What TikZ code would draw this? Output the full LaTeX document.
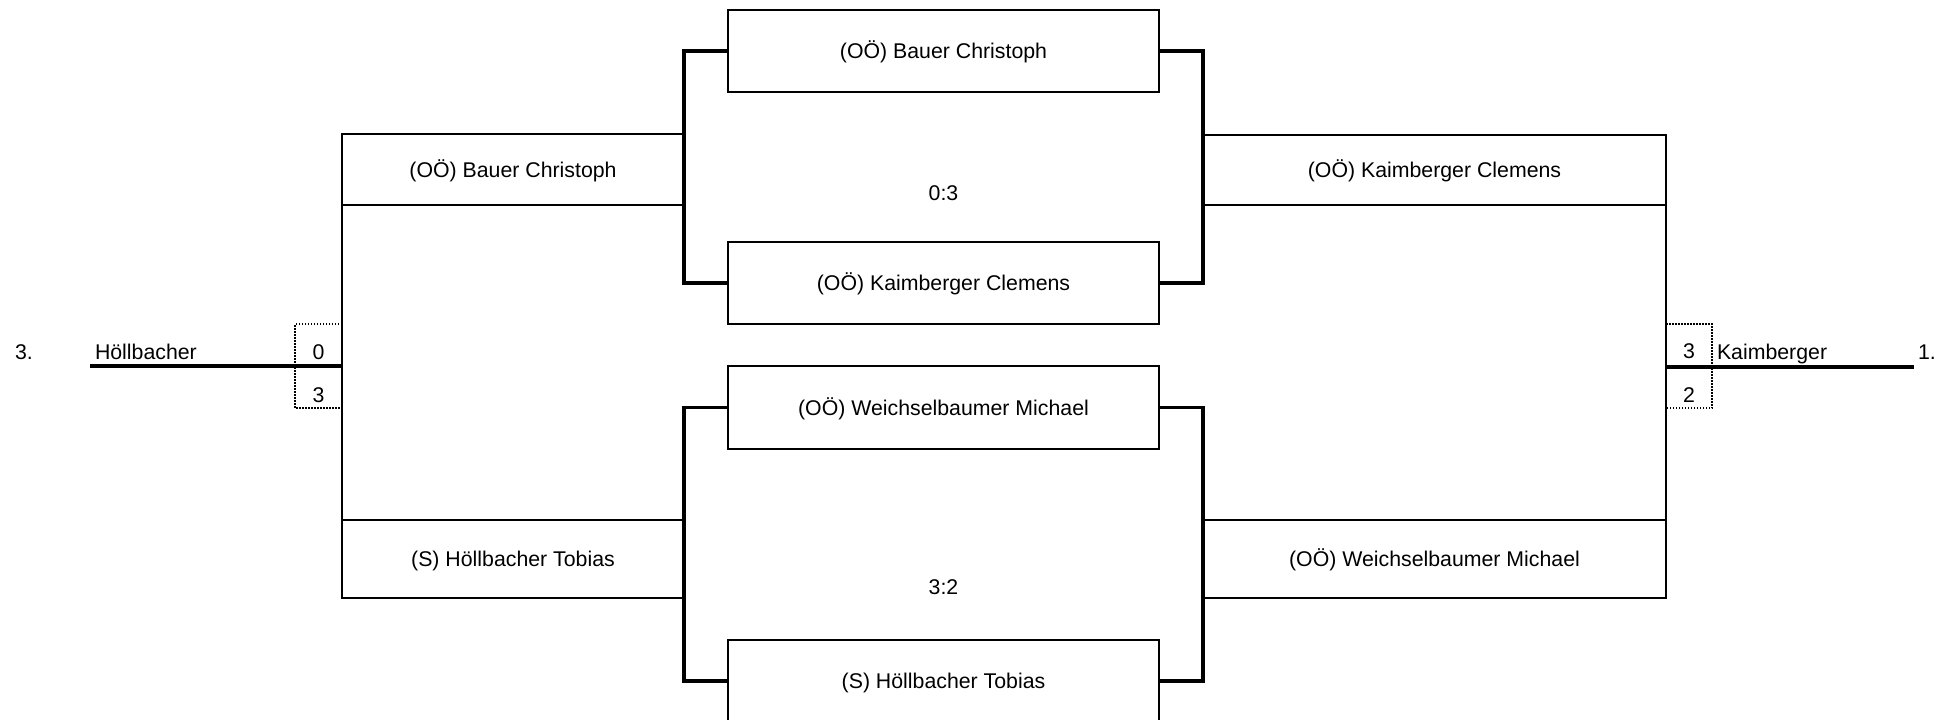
\documentclass[tikz,border=0pt]{standalone}
\usepackage{fontspec}
\setmainfont{Liberation Sans}
\begin{document}
\begin{tikzpicture}[x=1pt,y=-1pt,
  every node/.style={font=\fontsize{21.3}{25}\selectfont, inner sep=0pt, outer sep=0pt},
  boxthin/.style={draw, line width=2pt, rectangle, text height=15.3pt, text depth=0pt},
  ghost/.style={rectangle, inner sep=0pt},
  conn/.style={line width=3.2pt},
  thinline/.style={line width=2pt},
  dotline/.style={line width=1.5pt, dash pattern=on 1.5pt off 1.5pt},
  lbl/.style={anchor=base west},
  clbl/.style={anchor=base}]
\useasboundingbox (0,0) rectangle (1952,720);

% centre boxes (semi-finals)
\node[boxthin, minimum width=431pt, minimum height=82pt] (c1) at (943.5,51) {(OÖ) Bauer Christoph};
\node[boxthin, minimum width=431pt, minimum height=82pt] (c2) at (943.5,283) {(OÖ) Kaimberger Clemens};
\node[boxthin, minimum width=431pt, minimum height=83pt] (c3) at (943.5,407.5) {(OÖ) Weichselbaumer Michael};
\node[boxthin, minimum width=431pt, minimum height=82pt] (c4) at (943.5,681) {(S) Höllbacher Tobias};

% results
\node[clbl] (res1) at (943.5,200) {0:3};
\node[clbl] (res2) at (943.5,594) {3:2};

% left round boxes
\node[boxthin, minimum width=342pt, minimum height=71pt] (l1) at (513,169.5) {(OÖ) Bauer Christoph};
\node[boxthin, minimum width=342pt, minimum height=78pt] (l2) at (513,559) {(S) Höllbacher Tobias};

% right round boxes
\node[boxthin, minimum width=463pt, minimum height=70pt] (r1) at (1434.5,170) {(OÖ) Kaimberger Clemens};
\node[boxthin, minimum width=463pt, minimum height=78pt] (r2) at (1434.5,559) {(OÖ) Weichselbaumer Michael};

% bracket connectors
\draw[conn] (c1.west) -- (c1.west -| l1.east) |- (c2.west);
\draw[conn] (c3.west) -- (c3.west -| l2.east) |- (c4.west);
\draw[conn] (c1.east) -- (c1.east -| r1.west) |- (c2.east);
\draw[conn] (c3.east) -- (c3.east -| r2.west) |- (c4.east);

% outer verticals
\draw[thinline] (l1.south west) -- (l2.north west);
\draw[thinline] (r1.south east) -- (r2.north east);

% score boxes
\node[ghost, minimum width=47pt, minimum height=84pt] (sL) at (318.5,366) {};
\node[ghost, minimum width=46pt, minimum height=84pt] (sR) at (1689,366) {};
\draw[dotline] (sL.north east) -- (sL.north west) -- (sL.south west) -- (sL.south east);
\draw[dotline] (sR.north west) -- (sR.north east) -- (sR.south east) -- (sR.south west);

% final lines
\coordinate (lstart) at (90,366);
\coordinate (rend) at (1914,367);
\draw[conn] (lstart) -- (lstart -| l1.west);
\draw[conn] (rend -| r1.east) -- (rend);

% labels left
\node[lbl] (rankL) at (15,359) {3.};
\node[lbl] (nameL) at (95,359) {Höllbacher};
\node[clbl] (sL1) at (318.5,359) {0};
\node[clbl] (sL2) at (318.5,402) {3};

% labels right
\node[clbl] (sR1) at (1689,358) {3};
\node[clbl] (sR2) at (1689,402) {2};
\node[lbl] (nameR) at (1717,359) {Kaimberger};
\node[lbl] (rankR) at (1918,359) {1.};
\end{tikzpicture}
\end{document}
